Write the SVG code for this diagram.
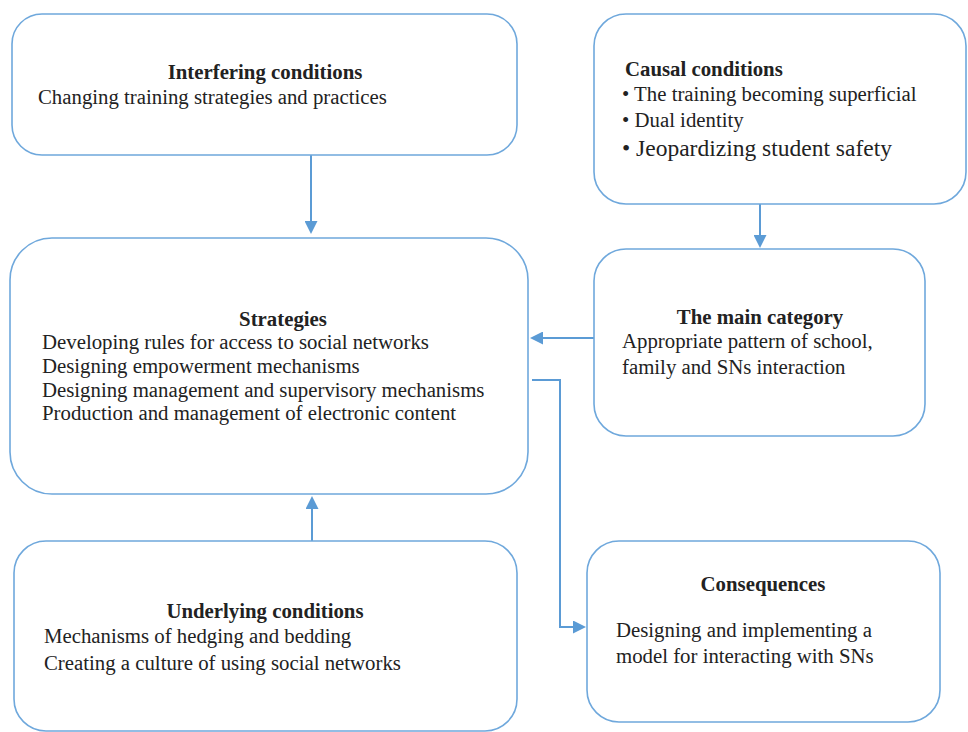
<svg xmlns="http://www.w3.org/2000/svg" width="968" height="732" viewBox="0 0 968 732">
<style>
.box{fill:#fff;stroke:#6fa8dc;stroke-width:1.6}
.t{font-family:"Liberation Serif","Times New Roman",serif;font-size:20.8px;fill:#222}
.b{font-weight:bold;text-anchor:middle}
.c{fill:none;stroke:#5b9bd5;stroke-width:2}
</style>
<defs>
<marker id="ah" markerWidth="13" markerHeight="13" refX="10" refY="6.5" orient="auto" markerUnits="userSpaceOnUse" viewBox="0 0 13 13">
<path d="M0,0 L13,6.5 L0,13 Z" fill="#5b9bd5"/>
</marker>
</defs>
<rect width="968" height="732" fill="#fff"/>
<g id="connectors">
<line class="c" x1="311" y1="155" x2="311" y2="231" marker-end="url(#ah)"/>
<line class="c" x1="760" y1="204" x2="760" y2="245" marker-end="url(#ah)"/>
<line class="c" x1="594" y1="338" x2="533" y2="338" marker-end="url(#ah)"/>
<polyline class="c" points="532,380 560,380 560,627 583,627" marker-end="url(#ah)"/>
<line class="c" x1="312" y1="541" x2="312" y2="499" marker-end="url(#ah)"/>
</g>
<g id="interfering">
<rect class="box" x="12" y="14" width="505" height="141" rx="30"/>
<text class="t b" x="265" y="79">Interfering conditions</text>
<text class="t" x="38" y="104">Changing training strategies and practices</text>
</g>
<g id="causal">
<rect class="box" x="594" y="14" width="372" height="190" rx="32"/>
<text class="t" x="625" y="76" font-weight="bold">Causal conditions</text>
<text class="t" x="622" y="101">• The training becoming superficial</text>
<text class="t" x="622" y="127">• Dual identity</text>
<text class="t" x="622" y="156" style="font-size:23.5px">• Jeopardizing student safety</text>
</g>
<g id="strategies">
<rect class="box" x="10" y="238" width="518" height="256" rx="42"/>
<text class="t b" x="283" y="326">Strategies</text>
<text class="t" x="42" y="349">Developing rules for access to social networks</text>
<text class="t" x="42" y="373">Designing empowerment mechanisms</text>
<text class="t" x="42" y="397">Designing management and supervisory mechanisms</text>
<text class="t" x="42" y="420">Production and management of electronic content</text>
</g>
<g id="main-category">
<rect class="box" x="594" y="249" width="331" height="187" rx="32"/>
<text class="t b" x="760" y="324">The main category</text>
<text class="t" x="622" y="348">Appropriate pattern of school,</text>
<text class="t" x="622" y="374">family and SNs interaction</text>
</g>
<g id="underlying">
<rect class="box" x="14" y="541" width="503" height="190" rx="32"/>
<text class="t b" x="265" y="618">Underlying conditions</text>
<text class="t" x="44" y="643">Mechanisms of hedging and bedding</text>
<text class="t" x="44" y="670">Creating a culture of using social networks</text>
</g>
<g id="consequences">
<rect class="box" x="587" y="541" width="353" height="181" rx="32"/>
<text class="t b" x="763" y="591">Consequences</text>
<text class="t" x="616" y="637">Designing and implementing a</text>
<text class="t" x="616" y="663">model for interacting with SNs</text>
</g>
</svg>
